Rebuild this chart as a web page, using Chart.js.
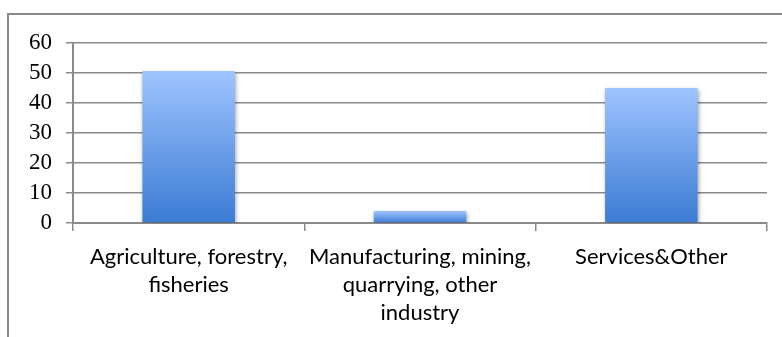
<!DOCTYPE html>
<html>
<head>
<meta charset="utf-8">
<script src="https://cdn.jsdelivr.net/npm/chart.js@4/dist/chart.umd.min.js"></script>
<style>
  html, body { margin: 0; padding: 0; background: #fff; }
  #wrap { width: 782px; height: 337px; position: relative; }
</style>
</head>
<body>
<div id="wrap"><canvas id="chart" width="782" height="337"></canvas></div>
<script>
var categories = [
  ['Agriculture, forestry,', 'fisheries'],
  ['Manufacturing, mining,', 'quarrying, other', 'industry'],
  'Services&Other'
];
var shares = [50.7, 4.0, 45.0];
var yTicks = [0, 10, 20, 30, 40, 50, 60];

// excel-like frame, runs off the right and bottom edge
var framePlugin = {
  id: 'frame',
  beforeDraw: function(chart) {
    var ctx = chart.ctx;
    ctx.save();
    ctx.strokeStyle = '#8a8a8a';
    ctx.lineWidth = 2;
    ctx.strokeRect(8, 14, 900, 500);
    ctx.restore();
  }
};

var shadowPlugin = {
  id: 'barShadow',
  beforeDatasetsDraw: function(chart) {
    var ctx = chart.ctx;
    ctx.save();
    ctx.shadowColor = 'rgba(0,0,0,0.35)';
    ctx.shadowBlur = 4;
    ctx.shadowOffsetX = 1;
    ctx.shadowOffsetY = 2;
  },
  afterDatasetsDraw: function(chart) {
    chart.ctx.restore();
  }
};

function barGradient(context) {
  var chart = context.chart;
  if (!chart.chartArea || !chart.scales.y) return '#6a9ff0';
  var y = chart.scales.y;
  var top = y.getPixelForValue(context.raw);
  var bottom = y.getPixelForValue(0);
  var g = chart.ctx.createLinearGradient(0, top, 0, bottom);
  g.addColorStop(0, '#9fc4ff');
  g.addColorStop(1, '#3b7bd4');
  return g;
}

new Chart(document.getElementById('chart'), {
  type: 'bar',
  data: {
    labels: categories,
    datasets: [{
      data: shares,
      backgroundColor: barGradient,
      borderWidth: 0,
      barPercentage: 0.4,
      categoryPercentage: 1.0
    }]
  },
  options: {
    responsive: false,
    animation: false,
    layout: { padding: { left: 0, top: 43, right: 15, bottom: 0 } },
    plugins: {
      legend: { display: false },
      tooltip: { enabled: false }
    },
    scales: {
      x: {
        grid: {
          display: true,
          drawOnChartArea: false,
          offset: true,
          tickLength: 8,
          color: '#8a8a8a',
          lineWidth: 1.5
        },
        border: { color: '#8a8a8a', width: 2 },
        ticks: {
          color: '#000',
          maxRotation: 0,
          autoSkip: false,
          padding: 12,
          font: { family: 'Lato', size: 22, lineHeight: 1.28 }
        },
        afterFit: function(scale) { scale.height = 114; }
      },
      y: {
        min: 0,
        max: 60,
        afterBuildTicks: function(scale) {
          scale.ticks = yTicks.map(function(v) { return { value: v }; });
        },
        grid: {
          color: '#8a8a8a',
          lineWidth: 1.5,
          tickLength: 7
        },
        border: { color: '#8a8a8a', width: 2 },
        ticks: {
          color: '#000',
          autoSkip: false,
          padding: 14,
          font: { family: 'Liberation Serif', size: 23 }
        },
        afterFit: function(scale) { scale.width = 73; }
      }
    }
  },
  plugins: [framePlugin, shadowPlugin]
});
</script>
</body>
</html>
